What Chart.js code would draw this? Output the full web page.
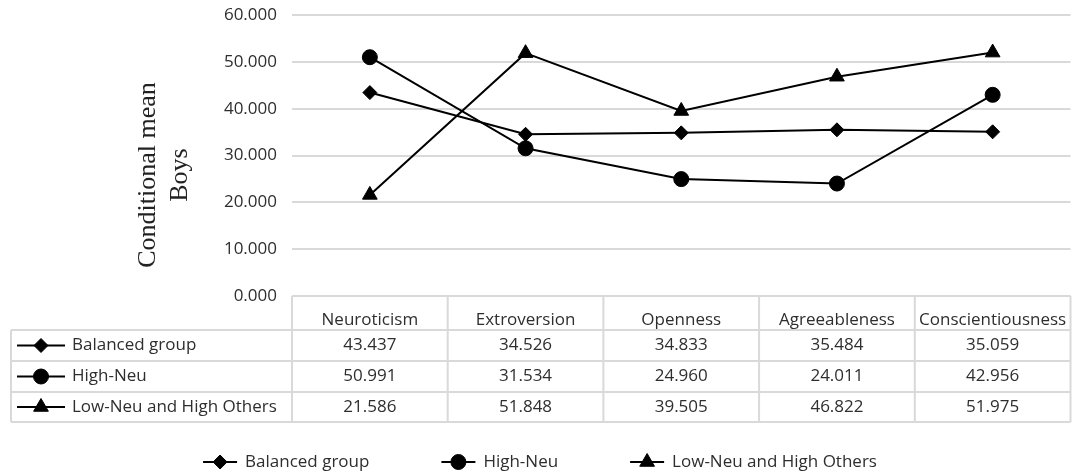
<!DOCTYPE html>
<html>
<head>
<meta charset="utf-8">
<script src="https://cdn.jsdelivr.net/npm/chart.js@4.4.1/dist/chart.umd.min.js"></script>
<style>
  html, body { margin: 0; padding: 0; background: #fff; overflow: hidden; }
</style>
</head>
<body>
<canvas id="chart" width="1080" height="475"></canvas>
<script>
const categories = ['Neuroticism', 'Extroversion', 'Openness', 'Agreeableness', 'Conscientiousness'];
const balanced = [43.437, 34.526, 34.833, 35.484, 35.059];
const highNeu = [50.991, 31.534, 24.960, 24.011, 42.956];
const lowNeuHighOthers = [21.586, 51.848, 39.505, 46.822, 51.975];
const seriesNames = ['Balanced group', 'High-Neu', 'Low-Neu and High Others'];
const yTicks = [0, 10, 20, 30, 40, 50, 60];
const axisTitle = ['Conditional mean', 'Boys'];

const FONT = "'Open Sans', sans-serif";
const TEXT = '#2e2e2e';
const GRID = '#d9d9d9';

const markers = [
    { style: 'rectRot', radius: 7 },
    { style: 'circle', radius: 7.5 },
    { style: 'triangle', radius: 8.5 }
];

function drawIcon(ctx, x, y, len, m) {
    ctx.save();
    ctx.strokeStyle = '#000';
    ctx.fillStyle = '#000';
    ctx.lineWidth = 2;
    ctx.beginPath();
    ctx.moveTo(x, y);
    ctx.lineTo(x + len, y);
    ctx.stroke();
    ctx.lineWidth = 1;
    Chart.helpers.drawPoint(ctx, { pointStyle: m.style, radius: m.radius, borderWidth: 1, rotation: 0 }, x + len / 2, y);
    ctx.restore();
}

// draws the data table under the plot, the y title and the legend
const tablePlugin = {
    id: 'tablePlugin',
    afterDraw(chart) {
        const ctx = chart.ctx;
        const xs = chart.scales.x;
        const area = chart.chartArea;
        const seriesValues = [balanced, highNeu, lowNeuHighOthers];
        const colW = (xs.right - xs.left) / categories.length;
        const top = area.bottom;
        const rowLines = [top + 34, top + 65, top + 96, top + 126];
        const tableLeft = 11;

        ctx.save();
        ctx.strokeStyle = GRID;
        ctx.lineWidth = 2;
        ctx.beginPath();
        ctx.moveTo(xs.left, top);
        ctx.lineTo(xs.right, top);
        rowLines.forEach(y => { ctx.moveTo(tableLeft, y); ctx.lineTo(xs.right, y); });
        ctx.moveTo(tableLeft, rowLines[0]);
        ctx.lineTo(tableLeft, rowLines[3]);
        for (let i = 0; i <= categories.length; i++) {
            const x = xs.left + i * colW;
            ctx.moveTo(x, top);
            ctx.lineTo(x, rowLines[3]);
        }
        ctx.stroke();

        ctx.font = '17px ' + FONT;
        ctx.fillStyle = TEXT;
        ctx.textBaseline = 'middle';
        seriesValues.forEach((vals, r) => {
            const cy = (rowLines[r] + rowLines[r + 1]) / 2;
            drawIcon(ctx, 17, cy, 48, markers[r]);
            ctx.fillStyle = TEXT;
            ctx.textAlign = 'left';
            ctx.fillText(seriesNames[r], 72, cy);
            ctx.textAlign = 'center';
            vals.forEach((v, i) => {
                ctx.fillText(v.toFixed(3), xs.getPixelForValue(i), cy);
            });
        });

        // y axis title
        ctx.save();
        ctx.translate(148, 175);
        ctx.rotate(-Math.PI / 2);
        ctx.font = '26px "Liberation Serif", serif';
        ctx.fillStyle = '#222';
        ctx.textAlign = 'center';
        axisTitle.forEach((t, i) => ctx.fillText(t, 0, i * 32));
        ctx.restore();

        // legend
        ctx.font = '17px ' + FONT;
        const iconLen = 34, iconGap = 8, itemGap = 72;
        const widths = seriesNames.map(n => iconLen + iconGap + ctx.measureText(n).width);
        const total = widths.reduce((a, b) => a + b, 0) + itemGap * (widths.length - 1);
        let lx = 540 - total / 2;
        const ly = 462;
        seriesNames.forEach((n, i) => {
            drawIcon(ctx, lx, ly, iconLen, markers[i]);
            ctx.fillStyle = TEXT;
            ctx.textAlign = 'left';
            ctx.fillText(n, lx + iconLen + iconGap, ly);
            lx += widths[i] + itemGap;
        });
        ctx.restore();
    }
};

function makeSet(label, data, m) {
    return {
        label: label,
        data: data,
        borderColor: '#000',
        backgroundColor: '#000',
        borderWidth: 2,
        pointStyle: m.style,
        pointRadius: m.radius,
        pointHoverRadius: m.radius,
        pointBorderWidth: 1,
        tension: 0
    };
}

new Chart(document.getElementById('chart').getContext('2d'), {
    type: 'line',
    data: {
        labels: categories,
        datasets: [
            makeSet(seriesNames[0], balanced, markers[0]),
            makeSet(seriesNames[1], highNeu, markers[1]),
            makeSet(seriesNames[2], lowNeuHighOthers, markers[2])
        ]
    },
    options: {
        responsive: false,
        animation: false,
        layout: { padding: { top: 15, bottom: 53, left: 0, right: 0 } },
        plugins: {
            legend: { display: false },
            tooltip: { enabled: false }
        },
        scales: {
            x: {
                offset: true,
                grid: { display: false },
                border: { display: false },
                ticks: { color: TEXT, font: { family: FONT, size: 17 }, padding: 6, maxRotation: 0, autoSkip: false },
                afterFit(scale) {
                    scale.height = 126;
                    scale.paddingLeft = 0;
                    scale.paddingRight = 0;
                }
            },
            y: {
                min: yTicks[0],
                max: yTicks[yTicks.length - 1],
                grid: { color: GRID, lineWidth: 2, drawTicks: false },
                border: { display: false },
                ticks: {
                    stepSize: yTicks[1] - yTicks[0],
                    padding: 15,
                    color: TEXT,
                    font: { family: FONT, size: 17 },
                    callback: v => v.toFixed(3)
                },
                afterFit(scale) {
                    scale.width = 292;
                    scale.paddingTop = 0;
                    scale.paddingBottom = 0;
                }
            }
        }
    },
    plugins: [tablePlugin]
});
</script>
</body>
</html>
